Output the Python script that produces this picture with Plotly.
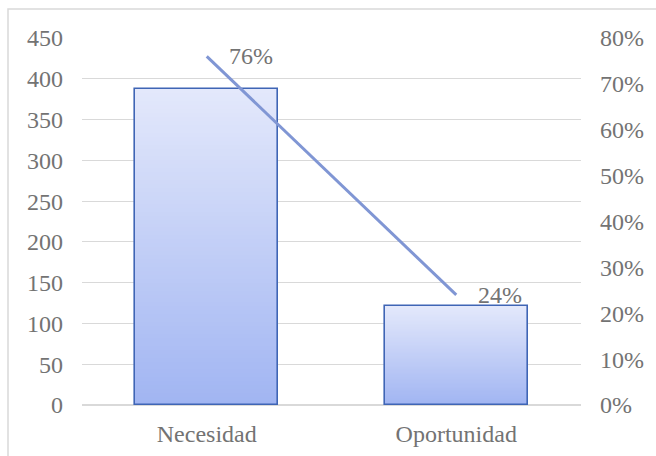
import plotly.graph_objects as go

# Data
categories = ["Necesidad", "Oportunidad"]
counts = [387, 121]
shares = [0.76, 0.24]

left_ticks = list(range(0, 451, 50))
right_ticks = [i / 10 for i in range(0, 9)]

FONT = "Liberation Serif, Times New Roman, serif"
TEXT = "#737373"
GRID = "#d9d9d9"
TOP = (0xE3, 0xE8, 0xFB)
BOTTOM = (0xA1, 0xB5, 0xF2)
BORDER = "#3f65b5"
LINE = "#8096d4"
BAR_W = 0.572
FS = 24

fig = go.Figure()

# Vertical gradient inside each bar: overlapping bars of decreasing height,
# lightest (full height) first, darkest (shortest) last.
N = 80
for k in range(N):
    t = k / (N - 1)
    r, g, b = (round(TOP[i] + (BOTTOM[i] - TOP[i]) * t) for i in range(3))
    frac = 1 - k / N
    fig.add_trace(go.Bar(
        x=categories, y=[v * frac for v in counts], width=BAR_W,
        marker=dict(color=f"rgb({r},{g},{b})", line=dict(width=0)),
        showlegend=False, hoverinfo="skip",
    ))

# Bar outlines
fig.add_trace(go.Bar(
    x=categories, y=counts, width=BAR_W,
    marker=dict(color="rgba(0,0,0,0)", line=dict(color=BORDER, width=1.6)),
    showlegend=False, name="Frecuencia",
))

# Percentage line on the secondary axis
fig.add_trace(go.Scatter(
    x=categories, y=shares, yaxis="y2", mode="lines",
    line=dict(color=LINE, width=3), showlegend=False, name="Porcentaje",
))

for c, s in zip(categories, shares):
    fig.add_annotation(
        x=c, y=s, yref="y2", text=f"{s:.0%}", showarrow=False,
        xanchor="left", yanchor="middle", xshift=20,
        font=dict(family=FONT, size=FS, color=TEXT),
    )

# Outer chart frame (only its top and left edges fall inside the page)
fig.add_shape(type="rect", xref="paper", yref="paper",
              x0=-0.1483, x1=1.2, y0=-0.3, y1=1.079,
              line=dict(color=GRID, width=1.5), fillcolor="rgba(0,0,0,0)", layer="below")

fig.update_layout(
    width=656, height=456,
    margin=dict(l=82, r=75, t=38, b=51, autoexpand=False),
    paper_bgcolor="white", plot_bgcolor="white",
    barmode="overlay", bargap=0,
    font=dict(family=FONT, size=FS, color=TEXT),
    xaxis=dict(showgrid=False, showline=False, zeroline=False, ticks="", automargin=False,
               tickfont=dict(family=FONT, size=FS, color=TEXT), ticklabelstandoff=12),
    yaxis=dict(range=[0, 450], tickvals=left_ticks, showgrid=True, gridcolor=GRID,
               gridwidth=1, zeroline=True, zerolinecolor=GRID, zerolinewidth=1.5,
               showline=False, ticks="", ticklabelstandoff=18, automargin=False,
               tickfont=dict(family=FONT, size=FS, color=TEXT)),
    yaxis2=dict(range=[0, 0.8], tickvals=right_ticks, tickformat=".0%", overlaying="y",
                side="right", showgrid=False, zeroline=False, showline=False, ticks="",
                ticklabelstandoff=18, automargin=False,
                tickfont=dict(family=FONT, size=FS, color=TEXT)),
)

fig.write_html("out.html")
